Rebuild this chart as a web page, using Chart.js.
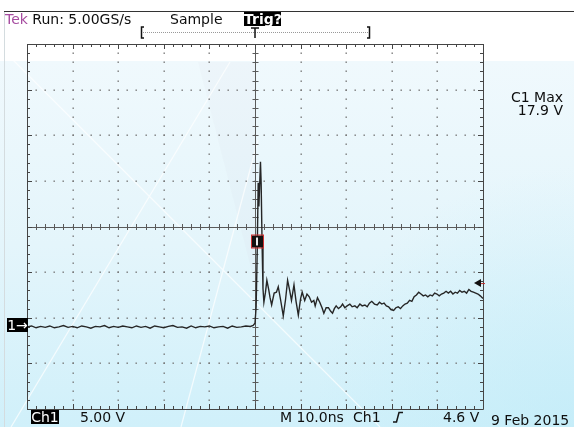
<!DOCTYPE html>
<html>
<head>
<meta charset="utf-8">
<script src="https://cdn.jsdelivr.net/npm/chart.js@4.4.1/dist/chart.umd.min.js"></script>
<style>
  html, body { margin: 0; padding: 0; background: #fff; }
  #wrap { position: relative; width: 574px; height: 427px; overflow: hidden; font-family: "DejaVu Sans", sans-serif; color: #0e0e0e; }
  #scope { position: absolute; left: 0; top: 0; }
  .lbl { position: absolute; font-size: 14px; line-height: 14px; white-space: nowrap; }
  .inv { background: #000; color: #fff; text-align: center; }
</style>
</head>
<body>
<div id="wrap">
  <canvas id="scope" width="574" height="427"></canvas>
  <div class="lbl" style="left:5px;top:12px;"><span style="color:#a64ca0">Tek</span> Run: 5.00GS/s</div>
  <div class="lbl" style="left:170px;top:12px;">Sample</div>
  <div class="lbl inv" style="left:244px;top:12px;width:37px;font-weight:bold;">Trig?</div>
  <div class="lbl" style="left:490px;top:90px;width:73px;text-align:right;">C1 Max</div>
  <div class="lbl" style="left:490px;top:103px;width:73px;text-align:right;">17.9 V</div>
  <div class="lbl inv" style="left:7px;top:318px;width:21px;">1&rarr;</div>
  <div class="lbl inv" style="left:31px;top:410px;width:28px;">Ch1</div>
  <div class="lbl" style="left:80px;top:410px;">5.00 V</div>
  <div class="lbl" style="left:280px;top:410px;">M 10.0ns</div>
  <div class="lbl" style="left:353px;top:410px;">Ch1</div>
  <div class="lbl" style="left:443px;top:410px;">4.6 V</div>
  <div class="lbl" style="left:491px;top:413px;">9 Feb 2015</div>
</div>
<script>
// Ch1 capture, time in ns (trigger at 0), voltage in V
const baseTimes = [-50,-49,-48,-47,-46,-45,-44,-43,-42,-41,-40,-39,-38,-37,-36,-35,-34,-33,-32,-31,
  -30,-29,-28,-27,-26,-25,-24,-23,-22,-21,-20,-19,-18,-17,-16,-15,-14,-13,-12,-11,
  -10,-9,-8,-7,-6,-5,-4,-3,-2,-1,-0.4];
const baseVolts = [-0.2,-0.1,-0.3,-0.15,-0.25,-0.1,-0.3,-0.2,-0.05,-0.25,
  -0.15,-0.3,-0.1,-0.2,-0.35,-0.15,-0.2,-0.05,-0.3,-0.15,
  -0.25,-0.1,-0.2,-0.3,-0.1,-0.25,-0.15,-0.35,-0.1,-0.2,
  -0.3,-0.15,-0.05,-0.25,-0.2,-0.35,-0.1,-0.3,-0.15,-0.2,
  -0.1,-0.3,-0.2,-0.15,-0.35,-0.1,-0.25,-0.2,-0.1,-0.15,-0.05];
const edgeTimes = [0.0,0.25,0.5,0.7,0.85,1.0,1.2,1.35,1.55,1.75,1.95];
const edgeVolts = [0.2,2.0,8.5,15.6,13.0,15.0,17.9,15.5,9.0,4.0,2.5];
const ringTimes = [2.3,2.6,3.0,3.3,3.65,4.2,4.7,5.1,5.6,6.2,6.7,7.15,7.6,8.0,8.55,9.0,9.5,10.0,10.35,10.9,
  11.4,11.9,12.4,12.9,13.2,13.7,14.2,14.7,15.1,15.6,16.1,16.6,17.0,17.4,17.8,18.3,18.8,19.2,19.7,20.2,
  20.8,21.3,21.9,22.4,23.0,23.5,24.1,24.6,25.1,25.6,26.2,26.8,27.3,27.8,28.3,28.8,29.3,29.8,30.4,30.9,
  31.4,31.9,32.4,32.9,33.4,33.9,34.4,34.9,35.4,35.9,36.4,36.9,37.4,37.9,38.4,38.9,39.4,39.9,40.4,40.9,
  41.4,41.9,42.4,42.9,43.4,43.9,44.4,44.9,45.4,45.9,46.4,46.9,47.4,47.9,48.4,48.9,49.4,50.0];
const ringVolts = [3.6,4.9,3.9,3.0,2.2,3.5,3.6,4.2,2.8,1.0,2.8,4.9,3.8,2.7,4.4,2.6,1.1,2.9,3.6,2.7,
  3.4,3.1,2.5,2.7,2.1,3.0,2.5,1.9,1.3,1.9,1.9,1.5,1.3,1.8,2.1,1.8,2.0,2.3,1.9,2.1,
  2.3,2.0,2.1,1.9,2.3,2.1,2.2,2.0,2.4,2.6,2.3,2.2,2.5,2.3,2.4,2.1,2.0,1.7,1.6,1.9,
  2.0,1.8,2.1,2.3,2.4,2.7,2.6,3.1,3.3,3.6,3.4,3.2,3.3,3.1,3.3,3.2,3.5,3.4,3.2,3.4,
  3.5,3.7,3.5,3.7,3.4,3.6,3.5,3.8,3.6,3.7,3.5,3.9,3.7,3.6,3.5,3.4,3.2,2.9];

// graticule: 10 divs x 10 ns, 8 divs x 5 V (ground 1.84 div above bottom)
const timeDivs = [-50,-40,-30,-20,-10,0,10,20,30,40,50];
const voltDivs = [-9.2,-4.2,0.8,5.8,10.8,15.8,20.8,25.8,30.8];
const triggerLevel = 4.6;

function buildTrace() {
    const pts = [];
    [[baseTimes, baseVolts], [edgeTimes, edgeVolts], [ringTimes, ringVolts]].forEach(([ts, vs]) => {
        ts.forEach((t, i) => pts.push({ x: t, y: vs[i] }));
    });
    return pts;
}

const screenPlugin = {
    id: 'screen',
    beforeDraw(chart) {
        const ctx = chart.ctx;
        const W = chart.width, H = chart.height;
        ctx.save();
        ctx.fillStyle = '#fff';
        ctx.fillRect(0, 0, W, H);
        const g = ctx.createLinearGradient(0, 61, 0, H);
        g.addColorStop(0, '#f0f9fd');
        g.addColorStop(0.5, '#e4f5fb');
        g.addColorStop(1, '#d0f0fa');
        ctx.fillStyle = g;
        ctx.fillRect(0, 61, W, H - 61);
        const r = ctx.createRadialGradient(W, H, 10, W, H, 260);
        r.addColorStop(0, 'rgba(190,235,248,0.55)');
        r.addColorStop(1, 'rgba(190,235,248,0)');
        ctx.fillStyle = r;
        ctx.fillRect(0, 61, W, H - 61);
        // faint wedge reflection
        ctx.fillStyle = 'rgba(200,200,220,0.08)';
        ctx.beginPath();
        ctx.moveTo(198, 62); ctx.lineTo(256, 62); ctx.lineTo(256, 288);
        ctx.closePath(); ctx.fill();
        // reflections
        ctx.strokeStyle = 'rgba(255,255,255,0.7)';
        ctx.lineWidth = 1.3;
        ctx.beginPath();
        ctx.moveTo(13, 60); ctx.lineTo(380, 427);
        ctx.moveTo(230, 62); ctx.lineTo(11, 427);
        ctx.moveTo(258, 140); ctx.lineTo(181, 427);
        ctx.stroke();
        // frame lines
        ctx.strokeStyle = '#333';
        ctx.lineWidth = 1;
        ctx.beginPath();
        ctx.moveTo(4, 11.5); ctx.lineTo(W, 11.5);
        ctx.stroke();
        ctx.strokeStyle = '#d4dcdf';
        ctx.beginPath();
        ctx.moveTo(4.5, 12); ctx.lineTo(4.5, H);
        ctx.stroke();
        ctx.restore();
    },
    beforeDatasetsDraw(chart) {
        const ctx = chart.ctx;
        const xs = chart.scales.x, ys = chart.scales.y;
        const a = chart.chartArea;
        const xp = timeDivs.map(t => xs.getPixelForValue(t));
        const yp = voltDivs.map(v => ys.getPixelForValue(v));
        const dx = (xp[1] - xp[0]) / 5, dy = (yp[0] - yp[1]) / 5;
        const cx = xp[5], cy = yp[4];
        ctx.save();
        // dotted graticule
        ctx.fillStyle = '#767676';
        xp.forEach((x, i) => {
            if (i === 0 || i === 5 || i === 10) return;
            for (let y = a.top + dy; y < a.bottom - 1; y += dy) ctx.fillRect(Math.round(x) - 0.5, Math.round(y) - 0.5, 1.4, 1.4);
        });
        yp.forEach((y, j) => {
            if (j === 0 || j === 4 || j === 8) return;
            for (let x = a.left + dx; x < a.right - 1; x += dx) ctx.fillRect(Math.round(x) - 0.5, Math.round(y) - 0.5, 1.4, 1.4);
        });
        // center crosshair with minor ticks
        ctx.strokeStyle = '#5a5a5a';
        ctx.lineWidth = 1;
        ctx.beginPath();
        ctx.moveTo(a.left, Math.round(cy) + 0.5); ctx.lineTo(a.right, Math.round(cy) + 0.5);
        ctx.moveTo(Math.round(cx) + 0.5, a.top); ctx.lineTo(Math.round(cx) + 0.5, a.bottom);
        for (let x = a.left + dx; x < a.right - 1; x += dx) {
            ctx.moveTo(Math.round(x) + 0.5, cy - 2.5); ctx.lineTo(Math.round(x) + 0.5, cy + 3.5);
        }
        for (let y = a.top + dy; y < a.bottom - 1; y += dy) {
            ctx.moveTo(cx - 2.5, Math.round(y) + 0.5); ctx.lineTo(cx + 3.5, Math.round(y) + 0.5);
        }
        ctx.stroke();
        // border with inward ticks
        ctx.strokeStyle = '#454545';
        ctx.beginPath();
        ctx.rect(Math.round(a.left) + 0.5, Math.round(a.top) + 0.5, Math.round(a.right - a.left), Math.round(a.bottom - a.top));
        let k = 0;
        for (let x = a.left; x <= a.right + 1; x += dx, k++) {
            const len = k % 5 === 0 ? 5 : 3;
            const px = Math.round(x) + 0.5;
            ctx.moveTo(px, a.top); ctx.lineTo(px, a.top + len);
            ctx.moveTo(px, a.bottom); ctx.lineTo(px, a.bottom - len);
        }
        k = 0;
        for (let y = a.top; y <= a.bottom + 1; y += dy, k++) {
            const len = k % 5 === 0 ? 5 : 3;
            const py = Math.round(y) + 0.5;
            ctx.moveTo(a.left, py); ctx.lineTo(a.left + len, py);
            ctx.moveTo(a.right, py); ctx.lineTo(a.right - len, py);
        }
        ctx.stroke();
        ctx.restore();
    },
    afterDraw(chart) {
        const ctx = chart.ctx;
        const xs = chart.scales.x, ys = chart.scales.y;
        const a = chart.chartArea;
        const cx = Math.round(xs.getPixelForValue(0));
        ctx.save();
        // record-length bracket with trigger position
        ctx.strokeStyle = '#999';
        ctx.setLineDash([1, 1]);
        ctx.beginPath();
        ctx.moveTo(143, 32.5); ctx.lineTo(369, 32.5);
        ctx.stroke();
        ctx.setLineDash([]);
        ctx.strokeStyle = '#111';
        ctx.lineWidth = 1.5;
        ctx.beginPath();
        ctx.moveTo(144, 27); ctx.lineTo(141.5, 27); ctx.lineTo(141.5, 38); ctx.lineTo(144, 38);
        ctx.moveTo(367, 27); ctx.lineTo(369.5, 27); ctx.lineTo(369.5, 38); ctx.lineTo(367, 38);
        ctx.moveTo(cx - 4, 28); ctx.lineTo(cx + 4, 28);
        ctx.moveTo(cx, 28); ctx.lineTo(cx, 38);
        ctx.stroke();
        // trigger marker on trace
        const ty = ys.getPixelForValue(10.8) + 9;
        ctx.fillStyle = '#111';
        ctx.fillRect(cx - 3, ty, 11, 12);
        ctx.strokeStyle = '#d03030';
        ctx.lineWidth = 1;
        ctx.strokeRect(cx - 3.5, ty - 0.5, 12, 13);
        ctx.fillStyle = '#eee';
        ctx.fillRect(cx + 1, ty + 2, 2, 8);
        // trigger level arrow on right
        const ly = ys.getPixelForValue(triggerLevel);
        ctx.fillStyle = '#111';
        ctx.beginPath();
        ctx.moveTo(a.right - 9, ly); ctx.lineTo(a.right - 2, ly - 4); ctx.lineTo(a.right - 2, ly + 4);
        ctx.closePath(); ctx.fill();
        ctx.strokeStyle = '#c03030';
        ctx.beginPath();
        ctx.moveTo(a.right - 2, ly + 0.5); ctx.lineTo(a.right + 2, ly + 0.5);
        ctx.stroke();
        // rising edge symbol in status line
        ctx.strokeStyle = '#161616';
        ctx.lineWidth = 1.5;
        ctx.beginPath();
        ctx.moveTo(393, 422); ctx.lineTo(396.5, 422); ctx.lineTo(399, 412.5); ctx.lineTo(403, 412.5);
        ctx.stroke();
        ctx.restore();
    }
};

new Chart(document.getElementById('scope'), {
    type: 'scatter',
    data: {
        datasets: [{
            label: 'Ch1',
            data: buildTrace(),
            showLine: true,
            borderColor: '#262626',
            borderWidth: 1.4,
            pointRadius: 0,
            tension: 0
        }]
    },
    options: {
        responsive: false,
        animation: false,
        devicePixelRatio: 1,
        layout: { padding: { left: 27, top: 44, right: 91, bottom: 18 } },
        scales: {
            x: { type: 'linear', min: -50, max: 50, display: false },
            y: { type: 'linear', min: -9.2, max: 30.8, display: false }
        },
        plugins: { legend: { display: false }, tooltip: { enabled: false } }
    },
    plugins: [screenPlugin]
});
</script>
</body>
</html>
